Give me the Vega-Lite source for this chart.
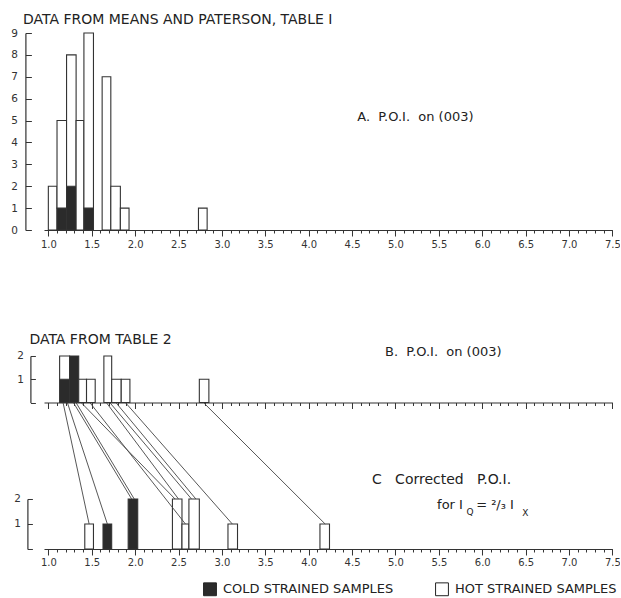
{
  "$schema": "https://vega.github.io/schema/vega-lite/v6.json",
  "background": "white",
  "padding": {"left": 10, "top": 13, "right": 0, "bottom": 0},
  "bounds": "flush",
  "spacing": 126,
  "config": {
    "view": {"stroke": null},
    "font": "DejaVu Sans",
    "axis": {"domainColor": "#333", "tickColor": "#333", "labelColor": "#333", "labelFont": "DejaVu Sans", "grid": false, "domainWidth": 1.2, "tickWidth": 1},
    "title": {"font": "DejaVu Sans", "fontSize": 14, "fontWeight": "normal", "color": "#222", "anchor": "start", "frame": "group"}
  },
  "datasets": {
    "barsA": [
      {"x0": 1.00, "x1": 1.10, "lo": 0, "hi": 2, "type": "hot"},
      {"x0": 1.10, "x1": 1.21, "lo": 0, "hi": 1, "type": "cold"},
      {"x0": 1.10, "x1": 1.21, "lo": 1, "hi": 5, "type": "hot"},
      {"x0": 1.21, "x1": 1.32, "lo": 0, "hi": 2, "type": "cold"},
      {"x0": 1.21, "x1": 1.32, "lo": 2, "hi": 8, "type": "hot"},
      {"x0": 1.32, "x1": 1.41, "lo": 0, "hi": 5, "type": "hot"},
      {"x0": 1.41, "x1": 1.52, "lo": 0, "hi": 1, "type": "cold"},
      {"x0": 1.41, "x1": 1.52, "lo": 1, "hi": 9, "type": "hot"},
      {"x0": 1.62, "x1": 1.72, "lo": 0, "hi": 7, "type": "hot"},
      {"x0": 1.72, "x1": 1.83, "lo": 0, "hi": 2, "type": "hot"},
      {"x0": 1.83, "x1": 1.93, "lo": 0, "hi": 1, "type": "hot"},
      {"x0": 2.73, "x1": 2.83, "lo": 0, "hi": 1, "type": "hot"}
    ],
    "barsB": [
      {"x0": 1.13, "x1": 1.245, "lo": 0, "hi": 1, "type": "cold"},
      {"x0": 1.13, "x1": 1.245, "lo": 1, "hi": 2, "type": "hot"},
      {"x0": 1.245, "x1": 1.35, "lo": 0, "hi": 2, "type": "cold"},
      {"x0": 1.35, "x1": 1.44, "lo": 0, "hi": 1, "type": "hot"},
      {"x0": 1.44, "x1": 1.54, "lo": 0, "hi": 1, "type": "hot"},
      {"x0": 1.64, "x1": 1.73, "lo": 0, "hi": 2, "type": "hot"},
      {"x0": 1.73, "x1": 1.84, "lo": 0, "hi": 1, "type": "hot"},
      {"x0": 1.84, "x1": 1.94, "lo": 0, "hi": 1, "type": "hot"},
      {"x0": 2.74, "x1": 2.85, "lo": 0, "hi": 1, "type": "hot"}
    ],
    "barsC": [
      {"x0": 1.42, "x1": 1.52, "lo": 0, "hi": 1, "type": "hot"},
      {"x0": 1.63, "x1": 1.73, "lo": 0, "hi": 1, "type": "cold"},
      {"x0": 1.92, "x1": 2.03, "lo": 0, "hi": 2, "type": "cold"},
      {"x0": 2.43, "x1": 2.54, "lo": 0, "hi": 2, "type": "hot"},
      {"x0": 2.54, "x1": 2.62, "lo": 0, "hi": 1, "type": "hot"},
      {"x0": 2.62, "x1": 2.74, "lo": 0, "hi": 2, "type": "hot"},
      {"x0": 3.07, "x1": 3.18, "lo": 0, "hi": 1, "type": "hot"},
      {"x0": 4.13, "x1": 4.24, "lo": 0, "hi": 1, "type": "hot"}
    ],
    "links": [
      {"from": 1.17, "to": 1.47, "n": 1},
      {"from": 1.22, "to": 1.68, "n": 1},
      {"from": 1.29, "to": 1.96, "n": 2},
      {"from": 1.32, "to": 1.99, "n": 2},
      {"from": 1.38, "to": 2.46, "n": 2},
      {"from": 1.48, "to": 2.58, "n": 1},
      {"from": 1.67, "to": 2.50, "n": 2},
      {"from": 1.71, "to": 2.65, "n": 2},
      {"from": 1.78, "to": 2.70, "n": 2},
      {"from": 1.89, "to": 3.12, "n": 1},
      {"from": 2.79, "to": 4.19, "n": 1}
    ]
  },
  "vconcat": [
    {
      "width": 568.4,
      "height": 197,
      "title": {"text": "DATA FROM MEANS AND PATERSON, TABLE I", "dx": -21, "offset": 1},
      "resolve": {"scale": {"x": "independent", "y": "independent"}, "axis": {"x": "independent", "y": "independent"}},
      "layer": [
        {
          "data": {"name": "barsA"},
          "mark": {"type": "rect", "stroke": "#333", "strokeWidth": 1.1},
          "encoding": {
            "x": {"field": "x0", "type": "quantitative", "scale": {"domain": [0.95, 7.5]},
              "axis": {"orient": "bottom", "title": null, "values": [1,1.1,1.2,1.3,1.4,1.5,1.6,1.7,1.8,1.9,2,2.1,2.2,2.3,2.4,2.5,2.6,2.7,2.8,2.9,3,3.1,3.2,3.3,3.4,3.5,3.6,3.7,3.8,3.9,4,4.1,4.2,4.3,4.4,4.5,4.6,4.7,4.8,4.9,5,5.1,5.2,5.3,5.4,5.5,5.6,5.7,5.8,5.9,6,6.1,6.2,6.3,6.4,6.5,6.6,6.7,6.8,6.9,7,7.1,7.2,7.3,7.4,7.5],
                "labelExpr": "round(datum.value*10) % 5 == 0 ? format(datum.value, '.1f') : ''",
                "tickSize": {"condition": {"test": "round(datum.value*10) % 5 == 0", "value": 6}, "value": 3},
                "labelOverlap": false, "labelFlush": false, "labelFontSize": 10, "labelPadding": 3}},
            "x2": {"field": "x1"},
            "y": {"field": "lo", "type": "quantitative", "scale": {"domain": [0, 9]},
              "axis": {"orient": "left", "title": null, "offset": 18.6, "values": [0,1,2,3,4,5,6,7,8,9], "labelOverlap": false, "tickSize": -6, "labelPadding": 14, "labelFontSize": 10.5}},
            "y2": {"field": "hi"},
            "fill": {"field": "type", "type": "nominal",
              "scale": {"domain": ["cold", "hot"], "range": ["#2b2b2b", "#ffffff"]},
              "legend": {"orient": "none", "legendX": 159, "legendY": 549, "direction": "horizontal", "title": null,
                "symbolType": "square", "symbolSize": 165, "symbolStrokeColor": "#222", "symbolStrokeWidth": 1,
                "labelExpr": "datum.label == 'cold' ? 'COLD STRAINED SAMPLES' : 'HOT STRAINED SAMPLES'",
                "labelFontSize": 13, "labelFont": "DejaVu Sans", "labelColor": "#222", "labelLimit": 300, "columnPadding": 39, "labelOffset": 6}}
          }
        },
        {
          "data": {"values": [{}]},
          "mark": {"type": "text", "text": "A.\u00a0\u00a0P.O.I.\u00a0\u00a0on (003)", "align": "left", "baseline": "middle", "fontSize": 13, "color": "#222"},
          "encoding": {
            "x": {"datum": 4.56, "type": "quantitative", "scale": {"domain": [0.95, 7.5]}, "axis": null},
            "y": {"datum": 5.16, "type": "quantitative", "scale": {"domain": [0, 9]}, "axis": null}
          }
        }
      ]
    },
    {
      "width": 568.4,
      "height": 193,
      "title": {"text": "DATA FROM TABLE 2", "dx": -14.6, "offset": -1},
      "resolve": {"scale": {"x": "independent", "y": "independent"}, "axis": {"x": "independent", "y": "independent"}},
      "layer": [
        {
          "data": {"name": "barsB"},
          "mark": {"type": "rect", "stroke": "#333", "strokeWidth": 1.1},
          "encoding": {
            "x": {"field": "x0", "type": "quantitative", "scale": {"domain": [0.95, 7.5]},
              "axis": {"orient": "bottom", "title": null, "offset": -146.5, "labels": false, "values": [1,1.1,1.2,1.3,1.4,1.5,1.6,1.7,1.8,1.9,2,2.1,2.2,2.3,2.4,2.5,2.6,2.7,2.8,2.9,3,3.1,3.2,3.3,3.4,3.5,3.6,3.7,3.8,3.9,4,4.1,4.2,4.3,4.4,4.5,4.6,4.7,4.8,4.9,5,5.1,5.2,5.3,5.4,5.5,5.6,5.7,5.8,5.9,6,6.1,6.2,6.3,6.4,6.5,6.6,6.7,6.8,6.9,7,7.1,7.2,7.3,7.4,7.5],
                "tickSize": {"condition": {"test": "round(datum.value*10) % 5 == 0", "value": 6}, "value": 3}}},
            "x2": {"field": "x1"},
            "y": {"field": "lo", "type": "quantitative", "scale": {"domain": [-6.3, 2]},
              "axis": {"orient": "left", "title": null, "offset": 13.6, "values": [0, 1, 2], "labelOverlap": false, "labelExpr": "datum.value == 0 ? '' : datum.label", "tickSize": -5, "labelPadding": 12, "labelFontSize": 10.5, "domainDash": [0, 146.5, 46.5, 1000]}},
            "y2": {"field": "hi"},
            "fill": {"field": "type", "type": "nominal",
              "scale": {"domain": ["cold", "hot"], "range": ["#2b2b2b", "#ffffff"]},
              "legend": {"orient": "none", "legendX": 159, "legendY": 549, "direction": "horizontal", "title": null,
                "symbolType": "square", "symbolSize": 165, "symbolStrokeColor": "#222", "symbolStrokeWidth": 1,
                "labelExpr": "datum.label == 'cold' ? 'COLD STRAINED SAMPLES' : 'HOT STRAINED SAMPLES'",
                "labelFontSize": 13, "labelFont": "DejaVu Sans", "labelColor": "#222", "labelLimit": 300, "columnPadding": 39, "labelOffset": 6}}
          }
        },
        {
          "data": {"name": "barsC"},
          "mark": {"type": "rect", "stroke": "#333", "strokeWidth": 1.1},
          "encoding": {
            "x": {"field": "x0", "type": "quantitative", "scale": {"domain": [0.95, 7.5]},
              "axis": {"orient": "bottom", "title": null, "values": [1,1.1,1.2,1.3,1.4,1.5,1.6,1.7,1.8,1.9,2,2.1,2.2,2.3,2.4,2.5,2.6,2.7,2.8,2.9,3,3.1,3.2,3.3,3.4,3.5,3.6,3.7,3.8,3.9,4,4.1,4.2,4.3,4.4,4.5,4.6,4.7,4.8,4.9,5,5.1,5.2,5.3,5.4,5.5,5.6,5.7,5.8,5.9,6,6.1,6.2,6.3,6.4,6.5,6.6,6.7,6.8,6.9,7,7.1,7.2,7.3,7.4,7.5],
                "labelExpr": "round(datum.value*10) % 5 == 0 ? format(datum.value, '.1f') : ''",
                "tickSize": {"condition": {"test": "round(datum.value*10) % 5 == 0", "value": 6}, "value": 3},
                "labelOverlap": false, "labelFlush": false, "labelFontSize": 10, "labelPadding": 3}},
            "x2": {"field": "x1"},
            "y": {"field": "lo", "type": "quantitative", "scale": {"domain": [0, 7.72]},
              "axis": {"orient": "left", "title": null, "offset": 16.6, "values": [0, 1, 2], "labelOverlap": false, "labelExpr": "datum.value == 0 ? '' : datum.label", "tickSize": -5, "labelPadding": 12, "labelFontSize": 10.5, "domainDash": [50, 1000]}},
            "y2": {"field": "hi"},
            "fill": {"field": "type", "type": "nominal",
              "scale": {"domain": ["cold", "hot"], "range": ["#2b2b2b", "#ffffff"]},
              "legend": {"orient": "none", "legendX": 159, "legendY": 549, "direction": "horizontal", "title": null,
                "symbolType": "square", "symbolSize": 165, "symbolStrokeColor": "#222", "symbolStrokeWidth": 1,
                "labelExpr": "datum.label == 'cold' ? 'COLD STRAINED SAMPLES' : 'HOT STRAINED SAMPLES'",
                "labelFontSize": 13, "labelFont": "DejaVu Sans", "labelColor": "#222", "labelLimit": 300, "columnPadding": 39, "labelOffset": 6}}
          }
        },
        {
          "data": {"name": "links"},
          "mark": {"type": "rule", "color": "#444", "strokeWidth": 0.9},
          "encoding": {
            "x": {"field": "to", "type": "quantitative", "scale": {"domain": [0.95, 7.5]}, "axis": null},
            "x2": {"field": "from"},
            "y": {"field": "n", "type": "quantitative", "scale": {"domain": [0, 7.72]}, "axis": null},
            "y2": {"datum": 5.85}
          }
        },
        {
          "data": {"values": [{}]},
          "mark": {"type": "text", "text": "B.\u00a0\u00a0P.O.I.\u00a0\u00a0on (003)", "align": "left", "baseline": "middle", "fontSize": 13, "color": "#222"},
          "encoding": {
            "x": {"datum": 4.88, "type": "quantitative", "scale": {"domain": [0.95, 7.5]}, "axis": null},
            "y": {"datum": 7.89, "type": "quantitative", "scale": {"domain": [0, 7.72]}, "axis": null}
          }
        },
        {
          "data": {"values": [{}]},
          "mark": {"type": "text", "text": "C\u00a0\u00a0\u00a0Corrected\u00a0\u00a0\u00a0P.O.I.", "align": "left", "baseline": "middle", "fontSize": 14, "color": "#222"},
          "encoding": {
            "x": {"datum": 4.73, "type": "quantitative", "scale": {"domain": [0.95, 7.5]}, "axis": null},
            "y": {"datum": 2.77, "type": "quantitative", "scale": {"domain": [0, 7.72]}, "axis": null}
          }
        },
        {
          "data": {"values": [{}]},
          "mark": {"type": "text", "text": "for\u00a0I", "align": "left", "baseline": "middle", "fontSize": 13, "color": "#222"},
          "encoding": {
            "x": {"datum": 5.48, "type": "quantitative", "scale": {"domain": [0.95, 7.5]}, "axis": null},
            "y": {"datum": 1.77, "type": "quantitative", "scale": {"domain": [0, 7.72]}, "axis": null}
          }
        },
        {
          "data": {"values": [{}]},
          "mark": {"type": "text", "text": "Q", "align": "left", "baseline": "middle", "fontSize": 9, "color": "#222"},
          "encoding": {
            "x": {"datum": 5.82, "type": "quantitative", "scale": {"domain": [0.95, 7.5]}, "axis": null},
            "y": {"datum": 1.49, "type": "quantitative", "scale": {"domain": [0, 7.72]}, "axis": null}
          }
        },
        {
          "data": {"values": [{}]},
          "mark": {"type": "text", "text": "= ²/₃ I", "align": "left", "baseline": "middle", "fontSize": 13, "color": "#222"},
          "encoding": {
            "x": {"datum": 5.93, "type": "quantitative", "scale": {"domain": [0.95, 7.5]}, "axis": null},
            "y": {"datum": 1.77, "type": "quantitative", "scale": {"domain": [0, 7.72]}, "axis": null}
          }
        },
        {
          "data": {"values": [{}]},
          "mark": {"type": "text", "text": "X", "align": "left", "baseline": "middle", "fontSize": 9, "color": "#222"},
          "encoding": {
            "x": {"datum": 6.46, "type": "quantitative", "scale": {"domain": [0.95, 7.5]}, "axis": null},
            "y": {"datum": 1.45, "type": "quantitative", "scale": {"domain": [0, 7.72]}, "axis": null}
          }
        }
      ]
    }
  ]
}
